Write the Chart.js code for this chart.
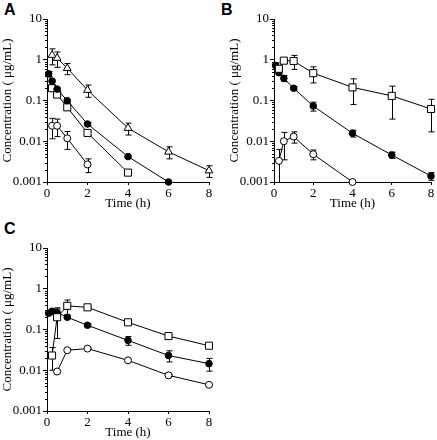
<!DOCTYPE html>
<html>
<head>
<meta charset="utf-8">
<script src="https://cdn.jsdelivr.net/npm/chart.js@4"></script>
<style>
  html, body { margin: 0; padding: 0; background: #fff; overflow: hidden; }
  body { width: 437px; height: 440px; position: relative; }
  .panel { position: absolute; }
  .tag { position: absolute; font: bold 16px "Liberation Sans", Arial, sans-serif; color: #000; }
</style>
</head>
<body>
<div class="tag" style="left:4px;top:1px;">A</div>
<div class="tag" style="left:221px;top:1px;">B</div>
<div class="tag" style="left:4px;top:220px;">C</div>
<div class="panel" style="left:0px;top:0px;width:215px;height:215px;"><canvas id="chartA"></canvas></div>
<div class="panel" style="left:227px;top:0px;width:210px;height:215px;"><canvas id="chartB"></canvas></div>
<div class="panel" style="left:0px;top:229px;width:215px;height:215px;"><canvas id="chartC"></canvas></div>
<script>
// tick labels
const yTicks = [0.001, 0.01, 0.1, 1, 10];
const xTicks = [0, 2, 4, 6, 8];

// Panel A
const aTriT = [0.25, 0.5, 1, 2, 4, 6, 8];
const aTriY = [1.3, 1.1, 0.62, 0.18, 0.021, 0.0055, 0.0019];
const aTriSd = [0.55, 0.45, 0.19, 0.06, 0.0068, 0.0018, 0.0006];
const aDotT = [0.083, 0.25, 0.5, 1, 2, 4, 6];
const aDotY = [0.45, 0.3, 0.19, 0.099, 0.0265, 0.0042, 0.001];
const aDotSd = [0.06, 0.02, 0.015, 0.006, 0.002, 0.0003, 0];
const aSqT = [0.25, 0.5, 1, 2, 4];
const aSqY = [0.2, 0.14, 0.068, 0.016, 0.0017];
const aSqSd = [0.02, 0.02, 0.01, 0.002, 0.0002];
const aCirT = [0.25, 0.5, 1, 2];
const aCirY = [0.024, 0.024, 0.0118, 0.0027];
const aCirSd = [0.0125, 0.011, 0.0055, 0.001];

// Panel B
const bSqT = [0.25, 0.5, 1, 2, 4, 6, 8];
const bSqY = [0.6, 0.95, 0.93, 0.47, 0.21, 0.13, 0.062];
const bSqSd = [0.06, 0.08, 0.35, 0.2, 0.13, 0.095, 0.045];
const bDotT = [0.083, 0.25, 0.5, 1, 2, 4, 6, 8];
const bDotY = [0.72, 0.48, 0.35, 0.2, 0.073, 0.0157, 0.0046, 0.0014];
const bDotSd = [0.12, 0.06, 0.06, 0.02, 0.018, 0.003, 0.0008, 0.0003];
const bCirT = [0.25, 0.5, 1, 2, 4];
const bCirY = [0.0033, 0.01, 0.013, 0.0048, 0.001];
const bCirSd = [0.003, 0.0065, 0.004, 0.0013, 0];

// Panel C
const cSqT = [0.25, 0.5, 1, 2, 4, 6, 8];
const cSqY = [0.023, 0.2, 0.38, 0.35, 0.15, 0.069, 0.04];
const cSqSd = [0.013, 0.14, 0.15, 0.015, 0.01, 0.005, 0.003];
const cDotT = [0.083, 0.25, 0.5, 1, 2, 4, 6, 8];
const cDotY = [0.25, 0.28, 0.26, 0.2, 0.127, 0.054, 0.023, 0.0145];
const cDotSd = [0.02, 0.02, 0.06, 0.02, 0.01, 0.013, 0.007, 0.005];
const cCirT = [0.5, 1, 2, 4, 6, 8];
const cCirY = [0.0093, 0.031, 0.034, 0.0175, 0.0075, 0.0044];
const cCirSd = [0.0005, 0.002, 0.002, 0.001, 0.0004, 0.0002];

const serif = '"Liberation Serif", "Times New Roman", serif';

const markers = {
    tri: { pointStyle: 'triangle', pointRadius: 4.5, pointBackgroundColor: '#fff' },
    dot: { pointStyle: 'circle', pointRadius: 3.3, pointBackgroundColor: '#000' },
    sq:  { pointStyle: 'rect', pointRadius: 5, pointBackgroundColor: '#fff' },
    cir: { pointStyle: 'circle', pointRadius: 3.5, pointBackgroundColor: '#fff' }
};

function series(kind, t, y, sd) {
    return Object.assign({
        data: t.map((v, i) => ({ x: v, y: y[i] })),
        sd: sd,
        showLine: true,
        borderColor: '#000',
        borderWidth: 1,
        pointBorderColor: '#000',
        pointBorderWidth: 1,
        tension: 0,
        clip: false
    }, markers[kind]);
}

// error bars, drawn under the markers
const errorBars = {
    id: 'errorBars',
    beforeDatasetsDraw(chart) {
        const ctx = chart.ctx;
        const ys = chart.scales.y;
        ctx.save();
        ctx.strokeStyle = '#000';
        ctx.lineWidth = 1;
        chart.data.datasets.forEach((ds, di) => {
            const meta = chart.getDatasetMeta(di);
            ds.data.forEach((p, i) => {
                const s = ds.sd[i];
                if (!s) return;
                const x = Math.round(meta.data[i].x) + 0.5;
                const top = ys.getPixelForValue(p.y + s);
                const lo = p.y - s;
                const clipped = lo <= ys.min;
                const bot = clipped ? ys.bottom : ys.getPixelForValue(lo);
                ctx.beginPath();
                ctx.moveTo(x, top);
                ctx.lineTo(x, bot);
                ctx.moveTo(x - 3, top);
                ctx.lineTo(x + 3, top);
                if (!clipped) {
                    ctx.moveTo(x - 3, bot);
                    ctx.lineTo(x + 3, bot);
                }
                ctx.stroke();
            });
        });
        ctx.restore();
    },
    afterDraw(chart) {
        // minor log ticks on the y axis
        const ctx = chart.ctx;
        const ys = chart.scales.y;
        const left = Math.round(chart.chartArea.left);
        ctx.save();
        ctx.strokeStyle = '#000';
        ctx.lineWidth = 1;
        ctx.beginPath();
        for (let n = -3; n < 1; n++) {
            for (let k = 2; k <= 9; k++) {
                const py = Math.round(ys.getPixelForValue(k * Math.pow(10, n))) + 0.5;
                ctx.moveTo(left - 2, py);
                ctx.lineTo(left + 0.5, py);
            }
        }
        ctx.stroke();
        ctx.restore();
    }
};

function makePanel(id, datasets, yWidth) {
    return new Chart(document.getElementById(id), {
        type: 'scatter',
        data: { datasets: datasets },
        plugins: [errorBars],
        options: {
            responsive: true,
            maintainAspectRatio: false,
            animation: false,
            layout: { padding: { top: 19, right: 5, left: 0, bottom: 0 } },
            plugins: { legend: { display: false }, tooltip: { enabled: false } },
            scales: {
                x: {
                    type: 'linear',
                    min: 0,
                    max: 8,
                    afterBuildTicks: s => { s.ticks = xTicks.map(v => ({ value: v })); },
                    afterFit: s => { s.height = 33; },
                    grid: { drawOnChartArea: false, tickLength: 3, color: '#000' },
                    border: { color: '#000', width: 1 },
                    ticks: { color: '#000', padding: 1, font: { family: serif, size: 13 } },
                    title: {
                        display: true, text: 'Time (h)', color: '#000',
                        padding: { top: 0, bottom: 4 },
                        font: { family: serif, size: 13 }
                    }
                },
                y: {
                    type: 'logarithmic',
                    min: 0.001,
                    max: 10,
                    afterBuildTicks: s => { s.ticks = yTicks.map(v => ({ value: v })); },
                    afterFit: s => { s.width = yWidth; },
                    grid: { drawOnChartArea: false, tickLength: 4, color: '#000' },
                    border: { color: '#000', width: 1 },
                    ticks: {
                        color: '#000', padding: 1,
                        font: { family: serif, size: 13 },
                        callback: v => String(v)
                    },
                    title: {
                        display: true, text: 'Concentration ( μg/mL)', color: '#000',
                        padding: { top: 0, bottom: 0 },
                        font: { family: serif, size: 13, lineHeight: 1.1 }
                    }
                }
            }
        }
    });
}

makePanel('chartA', [
    series('tri', aTriT, aTriY, aTriSd),
    series('dot', aDotT, aDotY, aDotSd),
    series('sq', aSqT, aSqY, aSqSd),
    series('cir', aCirT, aCirY, aCirSd)
], 47);

makePanel('chartB', [
    series('sq', bSqT, bSqY, bSqSd),
    series('dot', bDotT, bDotY, bDotSd),
    series('cir', bCirT, bCirY, bCirSd)
], 47);

makePanel('chartC', [
    series('sq', cSqT, cSqY, cSqSd),
    series('dot', cDotT, cDotY, cDotSd),
    series('cir', cCirT, cCirY, cCirSd)
], 47);
</script>
</body>
</html>
